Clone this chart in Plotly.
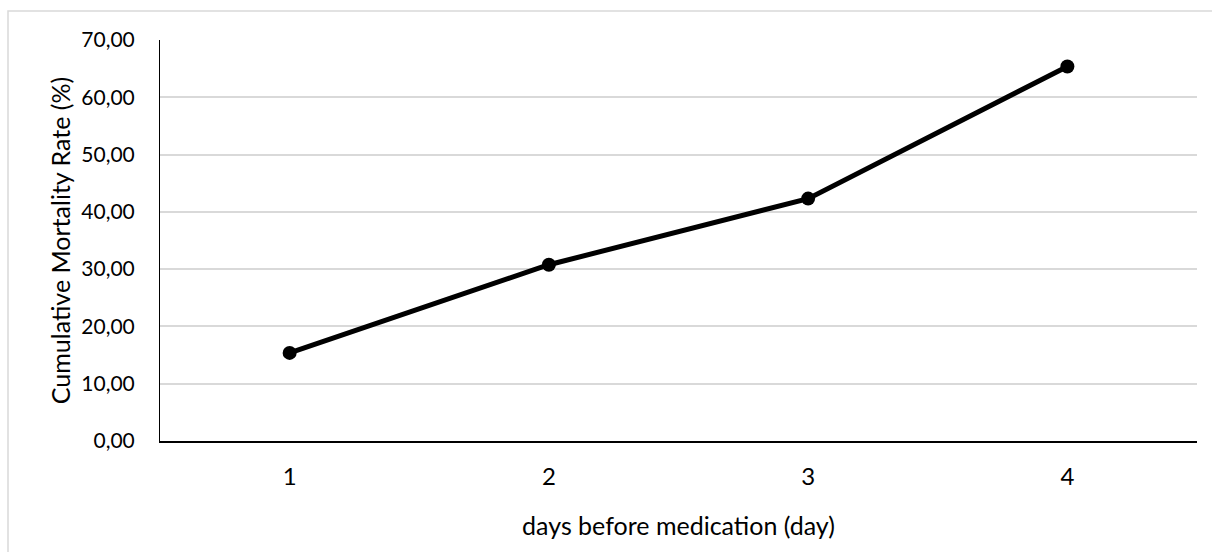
import plotly.graph_objects as go

days = ["1", "2", "3", "4"]
mortality = [15.38, 30.77, 42.31, 65.38]
y_ticks = [0, 10, 20, 30, 40, 50, 60, 70]

W, H = 1212, 552
ml, mr, mt, mb = 160, 15, 40, 111
pw, ph = W - ml - mr, H - mt - mb

fig = go.Figure()
fig.add_trace(go.Scatter(
    x=days, y=mortality, mode="lines+markers",
    line=dict(color="black", width=5),
    marker=dict(color="black", size=14),
    showlegend=False,
))

font_family = "Lato, 'Liberation Sans', sans-serif"

fig.update_layout(
    width=W, height=H,
    margin=dict(l=ml, r=mr, t=mt, b=mb),
    paper_bgcolor="white", plot_bgcolor="white",
    separators=",.",
    font=dict(family=font_family, color="#000000"),
    xaxis=dict(
        type="category", range=[-0.5, 3.5],
        showline=True, linecolor="black", linewidth=2,
        showgrid=False, ticks="", zeroline=False,
        tickfont=dict(size=24), ticklabelstandoff=13,
        title=dict(text="days before medication (day)", font=dict(size=25), standoff=29),
    ),
    yaxis=dict(
        range=[0, 70], tickvals=y_ticks, tickformat=".2f",
        showline=True, linecolor="black", linewidth=1,
        showgrid=True, gridcolor="#d9d9d9", gridwidth=1.5,
        zeroline=False, ticks="",
        tickfont=dict(size=21), ticklabelstandoff=20,
        title=dict(text="Cumulative Mortality Rate (%)", font=dict(size=25), standoff=3),
    ),
    shapes=[dict(
        type="rect", xref="paper", yref="paper",
        x0=(8 - ml) / pw, x1=(1230 - ml) / pw,
        y0=(H - mb - 570) / ph, y1=(H - mb - 11) / ph,
        line=dict(color="#d9d9d9", width=1.5), fillcolor="rgba(0,0,0,0)",
        layer="below",
    )],
)

fig.write_html("out.html")
